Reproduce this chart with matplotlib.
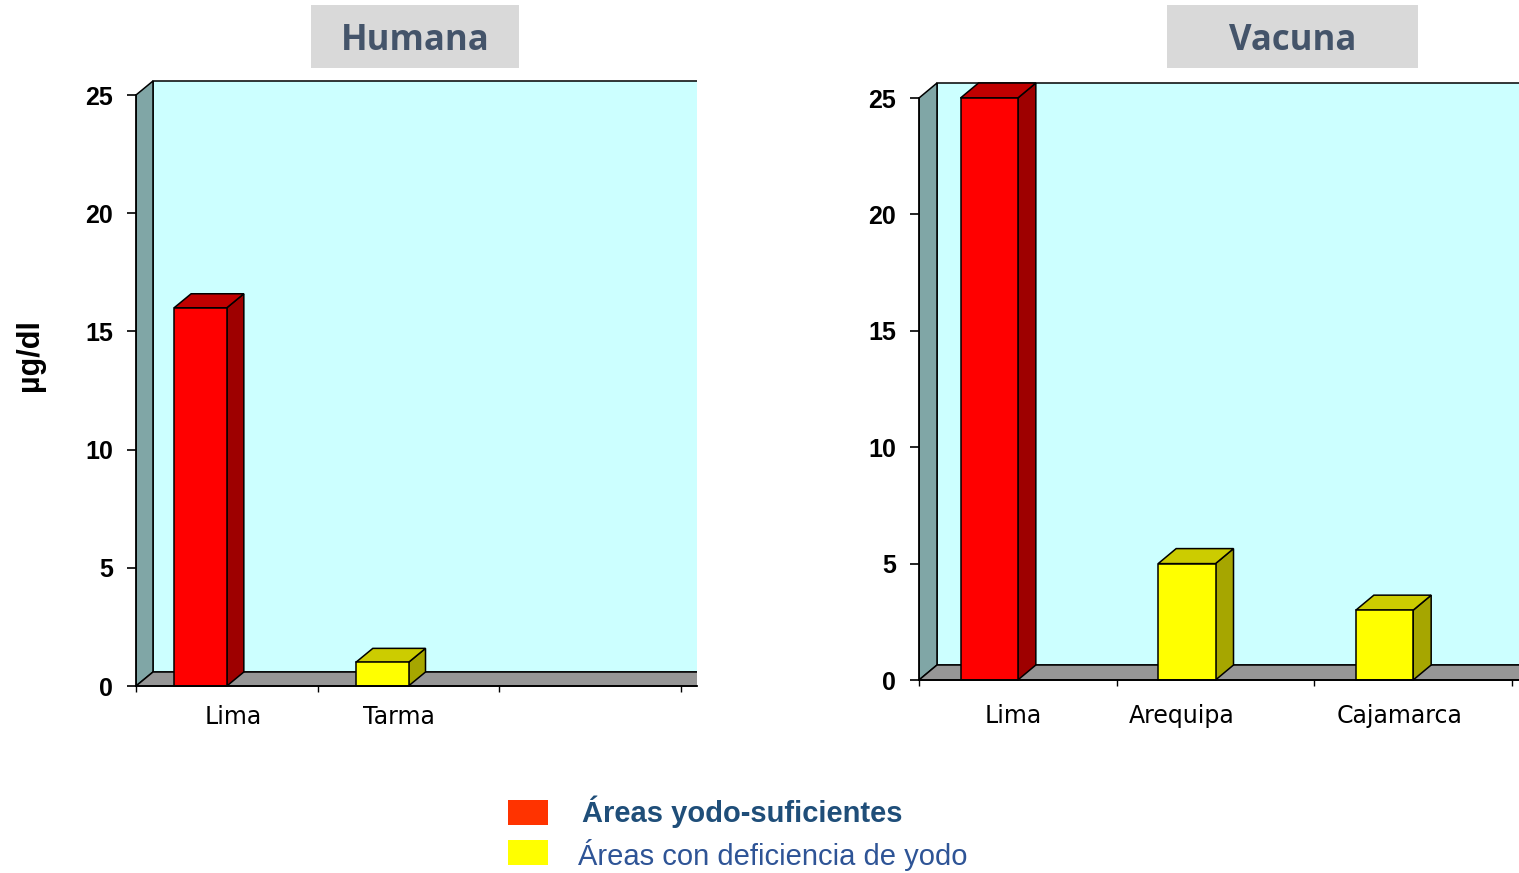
import numpy as np
import matplotlib
matplotlib.use("Agg")
import matplotlib.pyplot as plt
from matplotlib.patches import Polygon, Rectangle

# datos (µg/dl)
humana_cats = ['Lima', 'Tarma', '']
humana_vals = [16, 1, None]
humana_tipo = ['suf', 'def', None]

vacuna_cats = ['Lima', 'Arequipa', 'Cajamarca']
vacuna_vals = [25, 5, 3]
vacuna_tipo = ['suf', 'def', 'def']

yticks = [0, 5, 10, 15, 20, 25]
titulos = ['Humana', 'Vacuna']
leyenda = ['Áreas yodo-suficientes', 'Áreas con deficiencia de yodo']
ylabel = 'µg/dl'

W, H = 1519, 873
fig = plt.figure(figsize=(W / 100, H / 100), dpi=100)

# colores de caras: frente, arriba, lado
colores = {
    'suf': ('#FF0000', '#C00000', '#9E0000'),
    'def': ('#FFFF00', '#CCCC00', '#A6A600'),
}
EDGE = '#000000'
LW = 1.1


def px_axes(x0, y0, slot, unit, xmax_px, ytop, ybot):
    # crea ejes a partir de posiciones en pixeles
    xmax = (xmax_px - x0) / slot
    top_px = y0 - ytop * unit
    bot_px = y0 - ybot * unit
    ax = fig.add_axes([x0 / W, 1 - bot_px / H, (xmax_px - x0) / W, (bot_px - top_px) / H])
    ax.set_xlim(0, xmax)
    ax.set_ylim(ybot, ytop)
    return ax, xmax


def panel(ax, xmax, cats, vals, tipos, ddx, ddy, lab_off, lab_pad):
    ax.set_facecolor('none')
    # pared del fondo
    ax.add_patch(Rectangle((ddx, ddy), xmax + 1, 25, facecolor='#CCFFFF',
                           edgecolor=EDGE, lw=LW, zorder=1))
    # pared lateral
    ax.add_patch(Polygon([(0, 0), (0, 25), (ddx, 25 + ddy), (ddx, ddy)],
                         facecolor='#80A6A6', edgecolor=EDGE, lw=LW, zorder=1.1))
    # piso
    ax.add_patch(Polygon([(0, 0), (xmax + 1, 0), (xmax + 1 + ddx, ddy), (ddx, ddy)],
                         facecolor='#969696', edgecolor=EDGE, lw=LW, zorder=1.2))
    bw = 0.29
    for i, (v, t) in enumerate(zip(vals, tipos)):
        if v is None:
            continue
        fc, tc, sc = colores[t]
        x0 = i + 0.21
        ax.add_patch(Polygon([(x0 + bw, 0), (x0 + bw, v), (x0 + bw + ddx, v + ddy),
                              (x0 + bw + ddx, ddy)], facecolor=sc, edgecolor=EDGE,
                             lw=LW, zorder=2))
        ax.add_patch(Polygon([(x0, v), (x0 + bw, v), (x0 + bw + ddx, v + ddy),
                              (x0 + ddx, v + ddy)], facecolor=tc, edgecolor=EDGE,
                             lw=LW, zorder=2))
        ax.add_patch(Rectangle((x0, 0), bw, v, facecolor=fc, edgecolor=EDGE,
                               lw=LW, zorder=2.1))

    for s in ['top', 'right']:
        ax.spines[s].set_visible(False)
    ax.spines['bottom'].set_position(('data', 0))
    ax.spines['left'].set_bounds(0, 25)
    for s in ['bottom', 'left']:
        ax.spines[s].set_linewidth(1.3)
        ax.spines[s].set_zorder(3)

    ax.set_yticks(yticks)
    ax.set_yticklabels([str(t) for t in yticks], fontfamily='Liberation Sans',
                       fontweight='bold')
    ax.tick_params(axis='y', direction='out', length=6.5, width=1.2, pad=10,
                   labelsize=18)

    ax.set_xticks(np.arange(len(cats) + 1))
    ax.set_xticklabels([])
    ax.set_xticks(np.arange(len(cats)) + 0.5 + np.array(lab_off), minor=True)
    ax.set_xticklabels(cats, minor=True, fontfamily='DejaVu Sans')
    ax.tick_params(axis='x', which='major', direction='out', length=4.5, width=1.0)
    ax.tick_params(axis='x', which='minor', length=0, pad=lab_pad, labelsize=17)


ax1, xm1 = px_axes(136, 686, 181.67, 23.64, 697, 25.8, -0.6)
panel(ax1, xm1, humana_cats, humana_vals, humana_tipo, 17 / 181.67, 14 / 23.64,
      [0.033, -0.055, 0], 14)

ax2, xm2 = px_axes(919, 680, 197.67, 23.28, 1519, 25.8, -0.6)
panel(ax2, xm2, vacuna_cats, vacuna_vals, vacuna_tipo, 18 / 197.67, 15 / 23.28,
      [-0.025, -0.17, -0.07], 17)

# titulos con caja gris
cajas = [(311, 5, 208, 63), (1167, 5, 251, 63)]
for (bx, by, bw_, bh), t in zip(cajas, titulos):
    fig.patches.append(Rectangle((bx / W, 1 - (by + bh) / H), bw_ / W, bh / H,
                                 transform=fig.transFigure, facecolor='#D9D9D9',
                                 edgecolor='none'))
    fig.text((bx + bw_ / 2) / W, 1 - (by + bh / 2 + 4) / H, t, ha='center', va='center',
             fontfamily='Open Sans', fontweight='bold', fontsize=25, color='#44546A')

fig.text(30 / W, 1 - 355 / H, ylabel, rotation=90, ha='center', va='center',
         fontfamily='Liberation Sans', fontweight='bold', fontsize=22)

# leyenda
ley_col = ['#FF3300', '#FFFF00']
ley_y = [812, 855]
ley_x = [582, 578]
ley_peso = ['bold', 'normal']
ley_txt_col = ['#1F4E79', '#2E5496']
ley_box = [800, 840]
for lab, c, yy, xx, pw, tc, by in zip(leyenda, ley_col, ley_y, ley_x, ley_peso,
                                       ley_txt_col, ley_box):
    fig.patches.append(Rectangle((508 / W, 1 - (by + 25) / H), 40 / W, 25 / H,
                                 transform=fig.transFigure, facecolor=c, edgecolor='none'))
    fig.text(xx / W, 1 - yy / H, lab, ha='left', va='center',
             fontfamily='Liberation Sans', fontweight=pw, fontsize=21, color=tc)

fig.savefig('out.png', dpi=100)
